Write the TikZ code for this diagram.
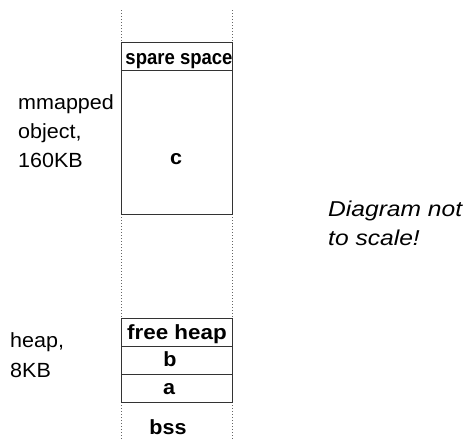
\documentclass[tikz,border=0pt]{standalone}
\usepackage{fontspec}
\setmainfont[FakeStretch=1.05]{Liberation Sans}
\begin{document}
\begin{tikzpicture}[x=1pt,y=-1pt,
  lbl/.style={inner sep=0pt,anchor=base west,font=\fontsize{20.5}{24}\selectfont},
  itl/.style={inner sep=0pt,anchor=base west,font=\fontsize{21.5}{25}\selectfont\itshape},
  blbl/.style={inner sep=0pt,anchor=base,font=\fontsize{20.5}{24}\selectfont\bfseries},
  boxline/.style={draw=black!80,line width=1pt},
  guide/.style={draw=black!60,line width=1pt,dotted}]
\useasboundingbox (0,0) rectangle (470,439);
% dotted guides
\coordinate (g1a) at (121,10); \coordinate (g1b) at (121,42);
\coordinate (g2a) at (232,10); \coordinate (g2b) at (232,42);
\coordinate (g3a) at (121,214); \coordinate (g3b) at (121,318);
\coordinate (g4a) at (232,214); \coordinate (g4b) at (232,318);
\coordinate (g5a) at (121,402); \coordinate (g5b) at (121,439);
\coordinate (g6a) at (232,402); \coordinate (g6b) at (232,439);
\draw[guide] (g1a) -- (g1b) (g2a) -- (g2b) (g3a) -- (g3b) (g4a) -- (g4b) (g5a) -- (g5b) (g6a) -- (g6b);
% mmapped box
\node[boxline,minimum width=111pt,minimum height=28pt,inner sep=0pt,anchor=north west] (spare) at (121,42) {};
\node[boxline,minimum width=111pt,minimum height=144pt,inner sep=0pt,anchor=north west] (cbox) at (121,70) {};
% heap boxes
\node[boxline,minimum width=111pt,minimum height=28pt,inner sep=0pt,anchor=north west] (free) at (121,318) {};
\node[boxline,minimum width=111pt,minimum height=28pt,inner sep=0pt,anchor=north west] (bbox) at (121,346) {};
\node[boxline,minimum width=111pt,minimum height=28pt,inner sep=0pt,anchor=north west] (abox) at (121,374) {};
% bold labels
\node[blbl] (tspare) at (179,64) {\scalebox{0.86}[1]{spare space}};
\node[blbl] (tc) at (176,164) {c};
\node[blbl] (tfree) at (177,339) {\scalebox{1.04}[1]{free heap}};
\node[blbl] (tb) at (170,366) {b};
\node[blbl] (ta) at (169,394) {a};
\node[blbl] (tbss) at (168,434) {bss};
% side texts
\node[lbl] (t1) at (18,109) {mmapped};
\node[lbl] (t2) at (18,138) {object,};
\node[lbl] (t3) at (18,167) {160KB};
\node[lbl] (t4) at (10,347) {heap,};
\node[lbl] (t5) at (10,377) {8KB};
\node[itl] (t6) at (328,216) {\scalebox{1.09}[1]{Diagram not}};
\node[itl] (t7) at (328,245) {\scalebox{1.09}[1]{to scale!}};
\end{tikzpicture}
\end{document}
